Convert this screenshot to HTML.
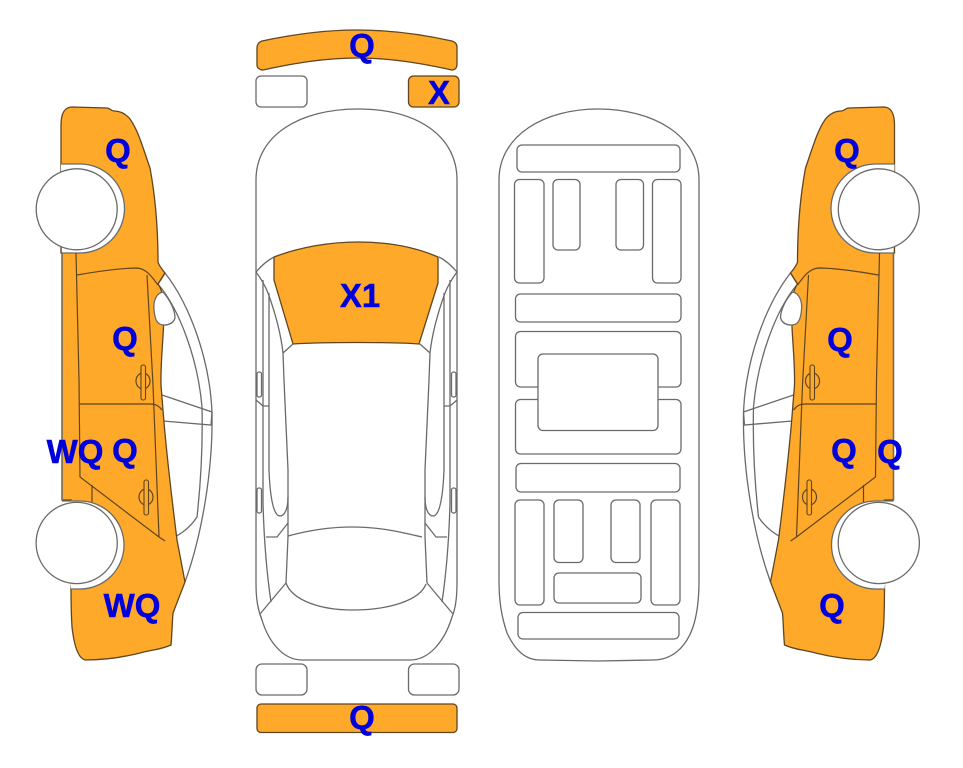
<!DOCTYPE html>
<html>
<head>
<meta charset="utf-8">
<style>
html,body{margin:0;padding:0;background:#fff;width:963px;height:768px;overflow:hidden}
svg{display:block}
text{font-family:"Liberation Sans",sans-serif;font-weight:bold;font-size:33px;fill:#0000dc;stroke:#0000dc;stroke-width:.5;text-anchor:middle}
.g{fill:none;stroke:#6a6a6a;stroke-width:1.3}
.w{fill:#fff;stroke:#6a6a6a;stroke-width:1.3}
.o{fill:#fea92a;stroke:#5f4520;stroke-width:1.3}
.d{fill:none;stroke:#5f4520;stroke-width:1.2}
</style>
</head>
<body>
<svg width="963" height="768" viewBox="0 0 963 768" xmlns="http://www.w3.org/2000/svg">
<defs>
<g id="side">
  <!-- glass behind body -->
  <path class="g" d="M165 273C190 305 210 360 212 413C213 470 202 535 185 582"/>
  <path class="g" d="M158 284C180 310 198 360 202 407C203 450 200 490 197 517C190 528 178 537 165 541"/>
  <path class="g" d="M162 395L212 412L211 425L163 421"/>
  <!-- body -->
  <path class="o" d="M61 125C61 113 65 107 72 107L107 108C110 108 111 111 114 111C120 111 125 113 130 119C138 130 143 148 150 168C155 195 158 228 158 262C159 266 162 269 165 273L158 284C170 300 160 345 161 385L163 410C166 450 172 500 177 540L185 582L173 613C172 625 172 635 171 645C160 650 150 650 140 653C120 658 100 660 85 660C78 658 74 645 72 627C71 612 71 600 71 585V500H62V253H61Z"/>
  <path class="g" d="M62 253V500"/>
  <!-- wheel arches: open towards the outer edge -->
  <path class="w" d="M61 164H80A44.500 44.500 0 0 1 80 253H62"/>
  <path class="w" d="M62 501H80A44 44 0 0 1 80 589H71"/>
  <circle cx="76.700" cy="209.300" r="40.500" class="w"/>
  <circle cx="76.700" cy="543" r="40.600" class="w"/>
  <!-- door lines -->
  <path class="d" d="M76 253L79 380L80 477L159 537L165 541"/>
  <path class="d" d="M77 275C100 271 120 268 137 268C147 269 152 277 158 285"/>
  <path class="d" d="M147 275L153 385L159 537"/>
  <path class="d" d="M79 404H150C156 404 159 406 162 410"/>
  <path class="d" d="M92 485V502"/>
  <path class="d" d="M158 284L165 273"/>
  <path class="w" d="M154 310C153 300 157 293 163 292C170 300 175 310 175 318C173 324 168 325 164 325C158 325 155 321 154 310Z"/>
  <!-- handles -->
  <ellipse cx="143" cy="381" rx="7" ry="8" class="d"/>
  <rect x="141" y="365" width="4.500" height="35" rx="2" class="o" style="stroke-width:1.1"/>
  <ellipse cx="146" cy="497" rx="7" ry="8" class="d"/>
  <rect x="144" y="480" width="4.500" height="35" rx="2" class="o" style="stroke-width:1.1"/>
</g>
<g id="half">
  <path class="g" d="M256 272C262 265 268 260 274 257"/>
  <path class="g" d="M256 272C262 280 266 288 268 293C276 315 281 335 283 353L284 380L288 470V537L286 583"/>
  <path class="g" d="M283 353L293 344"/>
  <path class="g" d="M263 280V503C264 540 267 575 271 602"/>
  <path class="g" d="M269 293V470C270 495 273 516 280 516C285 516 288 508 288 497"/>
  <rect x="257" y="372" width="4.500" height="25" rx="2" class="w"/>
  <rect x="257" y="488" width="4.500" height="25" rx="2" class="w"/>
  <path class="g" d="M256 400L263 406H269"/>
  <path class="g" d="M266 537H277L288 523"/>
  <path class="g" d="M286 583L260 614"/>
</g>
</defs>

<!-- Left side car -->
<use href="#side"/>
<!-- Right side car -->
<use href="#side" transform="translate(955.500 0) scale(-1 1)"/>

<!-- Top view car -->
<path class="o" d="M262 41C290 35 325 30 357 30C390 30 425 35 452 41C455 42 457 44 457 47V64C457 68 455 70 452 70C420 63 390 58 358 58C325 58 295 63 263 70C260 70 257 68 257 65V48C257 44 259 42 262 41Z"/>
<rect x="256" y="76" width="51" height="31" rx="5" class="w"/>
<rect x="408.500" y="76" width="50.500" height="31" rx="5" class="o"/>
<path class="g" d="M256 180C256 135 300 109 358 109C416 109 457 135 457 180V583C457 600 455 610 452 617C445 640 430 660 410 660H302C282 660 268 640 262 620C258 610 256 600 256 583Z"/>
<path class="o" d="M274 257C300 247 330 242 358 242C388 242 415 247 438 257V283L419 344C395 342 320 342 293 344L274 280Z"/>
<use href="#half"/>
<use href="#half" transform="translate(713 0) scale(-1 1)"/>
<path class="g" d="M288 536C310 530 330 527 352 527C380 527 400 532 422 537"/>
<path class="g" d="M286 583C292 600 320 610 352 610C390 610 420 600 426 584"/>
<rect x="256" y="664" width="51" height="31" rx="6" class="w"/>
<rect x="408.500" y="664" width="50.500" height="31" rx="6" class="w"/>
<rect x="257" y="704" width="200" height="28.500" rx="4" class="o"/>

<!-- Underbody -->
<path class="g" d="M499 180C499 135 545 109 598 109C652 109 699 135 699 180V580C699 600 697 615 693 627C685 650 670 660 653 660L598 661L540 660C525 660 515 650 507 633C501 615 499 600 499 580Z"/>
<rect x="517" y="145" width="163" height="27" rx="5" class="g"/>
<rect x="514.500" y="179.500" width="29.500" height="103.500" rx="5" class="g"/>
<rect x="553" y="179.500" width="27" height="70.500" rx="5" class="g"/>
<rect x="616" y="179.500" width="27.500" height="70.500" rx="5" class="g"/>
<rect x="652.500" y="179.500" width="28.500" height="103.500" rx="5" class="g"/>
<rect x="515.500" y="294" width="165.500" height="28" rx="5" class="g"/>
<rect x="515.500" y="331.500" width="165.500" height="55.500" rx="5" class="g"/>
<rect x="515.500" y="399.500" width="165.500" height="54.500" rx="5" class="g"/>
<rect x="538" y="354" width="120" height="76.500" rx="5" class="w"/>
<rect x="516" y="463.500" width="164" height="28.500" rx="5" class="g"/>
<rect x="515" y="500" width="29" height="105" rx="5" class="g"/>
<rect x="554" y="500" width="29" height="62.500" rx="5" class="g"/>
<rect x="611" y="500" width="29" height="62.500" rx="5" class="g"/>
<rect x="651" y="500" width="29" height="105" rx="5" class="g"/>
<rect x="554" y="573" width="87" height="30" rx="5" class="g"/>
<rect x="518" y="612.500" width="161" height="26.500" rx="5" class="g"/>

<!-- Labels -->
<text x="118" y="162">Q</text>
<text x="125" y="350">Q</text>
<text x="75" y="463">WQ</text>
<text x="125" y="462">Q</text>
<text x="132" y="617">WQ</text>
<text x="362" y="57">Q</text>
<text x="439" y="104">X</text>
<text x="360" y="307">X1</text>
<text x="362" y="729">Q</text>
<text x="847" y="162">Q</text>
<text x="840" y="351">Q</text>
<text x="844" y="462">Q</text>
<text x="890" y="463">Q</text>
<text x="832" y="617">Q</text>
</svg>
</body>
</html>
